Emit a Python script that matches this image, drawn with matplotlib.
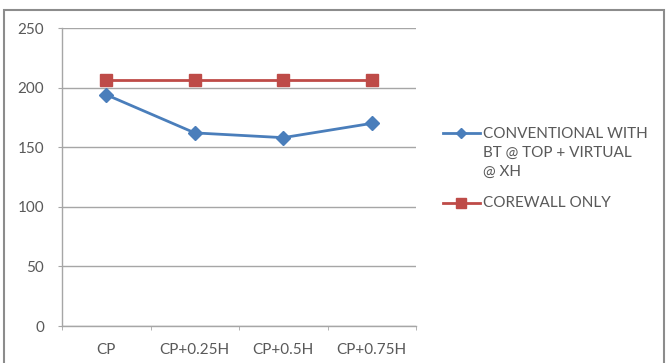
import matplotlib
matplotlib.use("Agg")
import matplotlib.pyplot as plt
from matplotlib.lines import Line2D
from matplotlib.patches import Rectangle

categories = ["CP", "CP+0.25H", "CP+0.5H", "CP+0.75H"]
conventional = [194, 162, 158, 170]
corewall = [206, 206, 206, 206]
series_labels = ["CONVENTIONAL WITH\nBT @ TOP + VIRTUAL\n@ XH", "COREWALL ONLY"]
y_ticks = [0, 50, 100, 150, 200, 250]

BLUE = "#4a7ebb"
RED = "#be4b48"
GRID = "#a6a6a6"
TEXT = "#595959"
FS = 11

plt.rcParams["font.family"] = ["Lato", "DejaVu Sans"]

W, H = 666, 363
fig = plt.figure(figsize=(W / 100, H / 100), dpi=100)

# chart frame
fig.add_artist(Rectangle((3.5 / W, -0.01), (660 / W), 1 - 9.5 / H + 0.01,
                         transform=fig.transFigure, fill=False,
                         edgecolor="#8c8c8c", linewidth=1.5))

ax = fig.add_axes([62 / W, 1 - 326 / H, (416 - 62) / W, (326 - 28) / H])
x = list(range(len(categories)))
ax.plot(x, conventional, color=BLUE, linewidth=2, marker="D", markersize=7,
        markerfacecolor=BLUE, markeredgecolor=BLUE, zorder=3)
ax.plot(x, corewall, color=RED, linewidth=2, marker="s", markersize=8,
        markerfacecolor=RED, markeredgecolor=RED, zorder=3)

ax.set_xlim(-0.5, len(categories) - 0.5)
ax.set_ylim(0, 250)
ax.set_yticks(y_ticks)
ax.set_xticks(x)
ax.set_xticklabels(categories)
ax.set_xticks([i + 0.5 for i in range(-1, len(categories))], minor=True)
ax.grid(axis="y", color=GRID, linewidth=1)
ax.set_axisbelow(True)
for s in ["top", "right"]:
    ax.spines[s].set_visible(False)
for s in ["left", "bottom"]:
    ax.spines[s].set_color(GRID)
    ax.spines[s].set_linewidth(1)
ax.tick_params(axis="y", length=3, color=GRID, labelsize=FS, labelcolor=TEXT, pad=10)
ax.tick_params(axis="x", which="major", length=0, labelsize=FS, labelcolor=TEXT, pad=12)
ax.tick_params(axis="x", which="minor", length=3, color=GRID)

# legend
for (yc, color, mk, ms) in [(133, BLUE, "D", 5), (203, RED, "s", 7)]:
    fig.add_artist(Line2D([443 / W, 480 / W], [1 - yc / H] * 2,
                          transform=fig.transFigure, color=color, linewidth=2))
    fig.add_artist(Line2D([461 / W], [1 - yc / H], transform=fig.transFigure,
                          color=color, marker=mk, markersize=ms, linestyle="none"))
fig.text(483 / W, 1 - 153 / H, series_labels[0], ha="left", va="center",
         fontsize=FS, color=TEXT, linespacing=1.47)
fig.text(483 / W, 1 - 203 / H, series_labels[1], ha="left", va="center",
         fontsize=FS, color=TEXT)

fig.savefig("out.png", dpi=100)
